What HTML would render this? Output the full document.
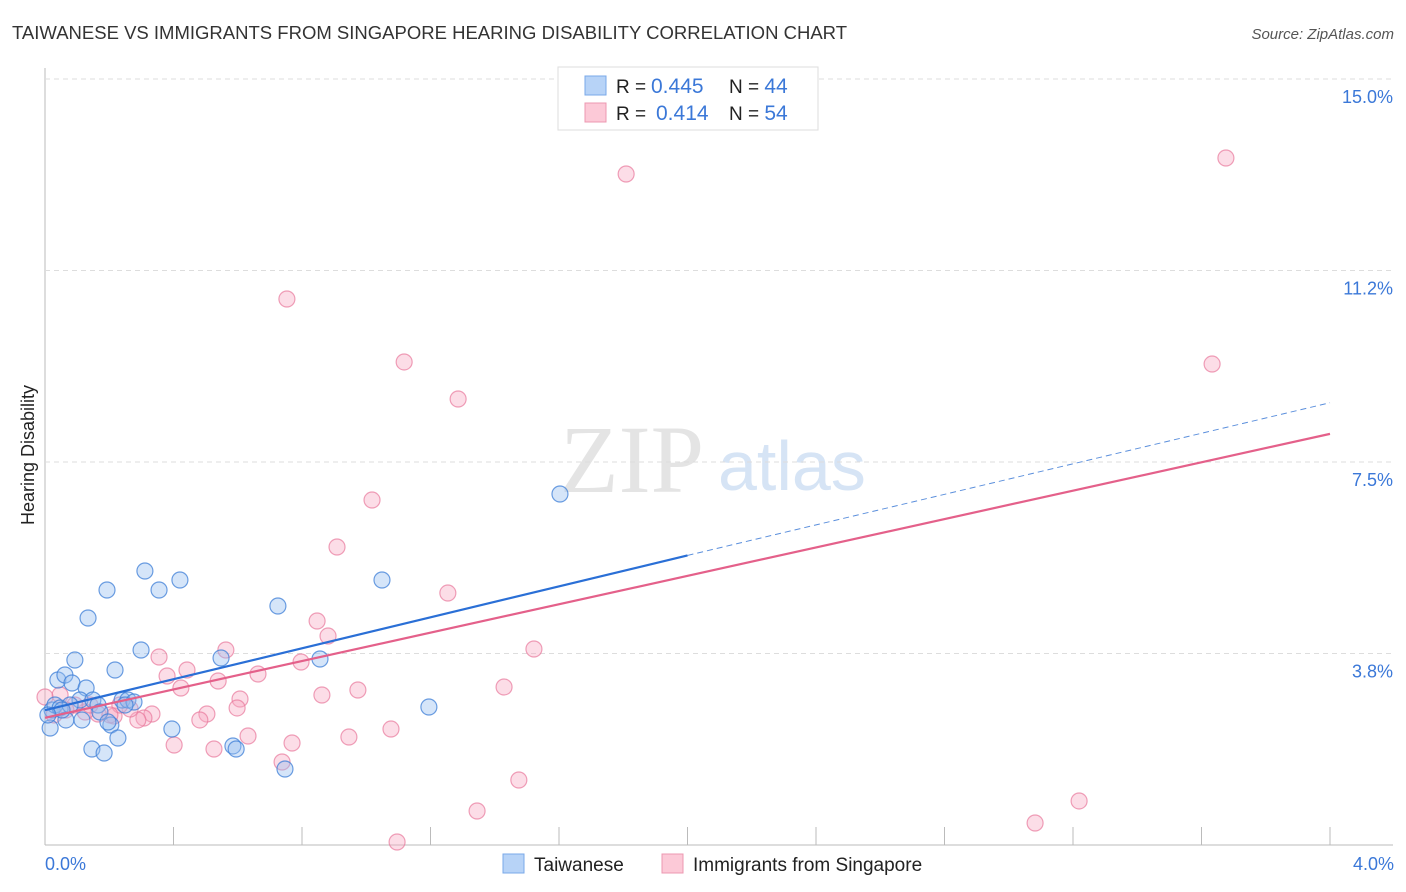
<!DOCTYPE html>
<html><head><meta charset="utf-8"><style>
body{margin:0;background:#fff;font-family:"Liberation Sans",sans-serif;}
svg{display:block}
</style></head><body>
<svg id="chart" width="1406" height="892">
<text x="12" y="39" font-size="18" fill="#333" textLength="835" lengthAdjust="spacingAndGlyphs">TAIWANESE VS IMMIGRANTS FROM SINGAPORE HEARING DISABILITY CORRELATION CHART</text>
<text x="1394" y="39" font-size="15" fill="#555" font-style="italic" text-anchor="end">Source: ZipAtlas.com</text>
<text x="560" y="492" font-size="96" fill="#e4e4e4" font-family="Liberation Serif">ZIP</text>
<text x="718" y="490" font-size="70" fill="#d6e4f5">atlas</text>
<g id="grid"></g><g id="pts"></g><g id="lines"></g>
<text transform="translate(34,455) rotate(-90)" font-size="18" fill="#222" text-anchor="middle">Hearing Disability</text>
<text x="45" y="870" font-size="18" fill="#3b78d8">0.0%</text>
<text x="1394" y="870" font-size="18" fill="#3b78d8" text-anchor="end">4.0%</text>
<g>
<rect x="558" y="67" width="260" height="63" fill="#fff" stroke="#ddd"/>
<rect x="585" y="76" width="21" height="19" fill="#b7d3f7" stroke="#7aa8e8"/>
<rect x="585" y="103" width="21" height="19" fill="#fcc9d7" stroke="#ec98b0"/>
<text x="616" y="93" font-size="19" fill="#222">R = <tspan fill="#3b78d8" font-size="21" x="651">0.445</tspan><tspan x="729">N = </tspan><tspan fill="#3b78d8" font-size="21">44</tspan></text>
<text x="616" y="120" font-size="19" fill="#222">R = <tspan fill="#3b78d8" font-size="21" x="656">0.414</tspan><tspan x="729">N = </tspan><tspan fill="#3b78d8" font-size="21">54</tspan></text>
</g>
<g>
<rect x="503" y="854" width="21" height="19" fill="#b7d3f7" stroke="#7aa8e8"/>
<text x="534" y="871" font-size="19" fill="#222">Taiwanese</text>
<rect x="662" y="854" width="21" height="19" fill="#fcc9d7" stroke="#ec98b0"/>
<text x="693" y="871" font-size="19" fill="#222">Immigrants from Singapore</text>
</g>
</svg>
<script>
const yTicks=[3.75,7.5,11.25,15.0];
const yTickLabels=["3.8%","7.5%","11.2%","15.0%"];
const xTicks=[0,0.4,0.8,1.2,1.6,2.0,2.4,2.8,3.2,3.6,4.0];
const bluePx=[[52,710],[50,728],[58,680],[65,675],[75,660],[72,683],[86,688],[80,700],[88,618],[93,700],[98,705],[107,590],[115,670],[145,571],[159,590],[180,580],[141,650],[122,700],[128,700],[134,702],[111,725],[118,738],[92,749],[104,753],[172,729],[221,658],[233,746],[236,749],[278,606],[285,769],[320,659],[382,580],[429,707],[560,494],[55,705],[60,708],[66,720],[70,705],[82,720],[100,712],[108,722],[125,705],[62,710],[48,715]];
const pinkPx=[[287,299],[626,174],[1226,158],[404,362],[458,399],[1212,364],[372,500],[337,547],[448,593],[317,621],[328,636],[534,649],[226,650],[159,657],[187,670],[167,676],[258,674],[301,662],[218,681],[181,688],[504,687],[322,695],[358,690],[240,699],[237,708],[207,714],[152,714],[144,718],[138,720],[114,716],[130,709],[98,714],[85,712],[60,695],[54,715],[248,736],[292,743],[349,737],[391,729],[174,745],[214,749],[200,720],[282,762],[519,780],[477,811],[1079,801],[1035,823],[397,842],[75,705],[66,710],[120,705],[90,705],[45,697],[110,715]];
const blueX=bluePx.map(p=>+((p[0]-45)/321.25).toFixed(3));
const blueY=bluePx.map(p=>+((845-p[1])/51.07).toFixed(3));
const pinkX=pinkPx.map(p=>+((p[0]-45)/321.25).toFixed(3));
const pinkY=pinkPx.map(p=>+((845-p[1])/51.07).toFixed(3));
const blueTrend=[2.64,5.67,8.66];
const pinkTrend=[2.49,5.27,8.05];
const sx=v=>45+v*321.25, sy=v=>845-v*51.07;
const NS="http://www.w3.org/2000/svg";
function mk(t,a,p){const e=document.createElementNS(NS,t);for(const k in a)e.setAttribute(k,a[k]);p.appendChild(e);return e;}
const grid=document.getElementById('grid');
mk('line',{x1:45,y1:68,x2:45,y2:845,stroke:'#bbb'},grid);
mk('line',{x1:45,y1:845,x2:1393,y2:845,stroke:'#bbb'},grid);
mk('line',{x1:45,y1:79,x2:1393,y2:79,stroke:'#ddd','stroke-dasharray':'5,4'},grid);
yTicks.forEach((v,i)=>{
 const l=mk('line',{x1:45,y1:sy(v),x2:1393,y2:sy(v),stroke:'#ddd','stroke-dasharray':'5,4'},grid);
 
 
 const t=mk('text',{x:1393,y:sy(v)+24,'font-size':18,fill:'#3b78d8','text-anchor':'end'},grid);
 t.textContent=yTickLabels[i];
 
 
});
xTicks.forEach(v=>{
 const l=mk('line',{x1:sx(v),y1:827,x2:sx(v),y2:845,stroke:'#bbb'},grid);
 
 
});
const pts=document.getElementById('pts');
pinkX.forEach((x,i)=>{
 const c=mk('circle',{cx:sx(x),cy:sy(pinkY[i]),r:8,fill:'rgba(248,170,195,0.4)',stroke:'rgba(232,120,155,0.7)','stroke-width':1.2},pts);
 
 
});
blueX.forEach((x,i)=>{
 const c=mk('circle',{cx:sx(x),cy:sy(blueY[i]),r:8,fill:'rgba(150,190,240,0.4)',stroke:'rgba(60,125,215,0.75)','stroke-width':1.2},pts);
 
 
});
const lines=document.getElementById('lines');
let b1=mk('line',{x1:sx(0),y1:sy(blueTrend[0]),x2:sx(2.0),y2:sy(blueTrend[1]),stroke:'#2a6fd6','stroke-width':2.2},lines);


let b2=mk('line',{x1:sx(2.0),y1:sy(blueTrend[1]),x2:sx(4.0),y2:sy(blueTrend[2]),stroke:'#5b8fdc','stroke-width':1,'stroke-dasharray':'6,4'},lines);


let p1=mk('line',{x1:sx(0),y1:sy(pinkTrend[0]),x2:sx(4.0),y2:sy(pinkTrend[2]),stroke:'#e4608a','stroke-width':2.2},lines);


</script>
</body></html>
